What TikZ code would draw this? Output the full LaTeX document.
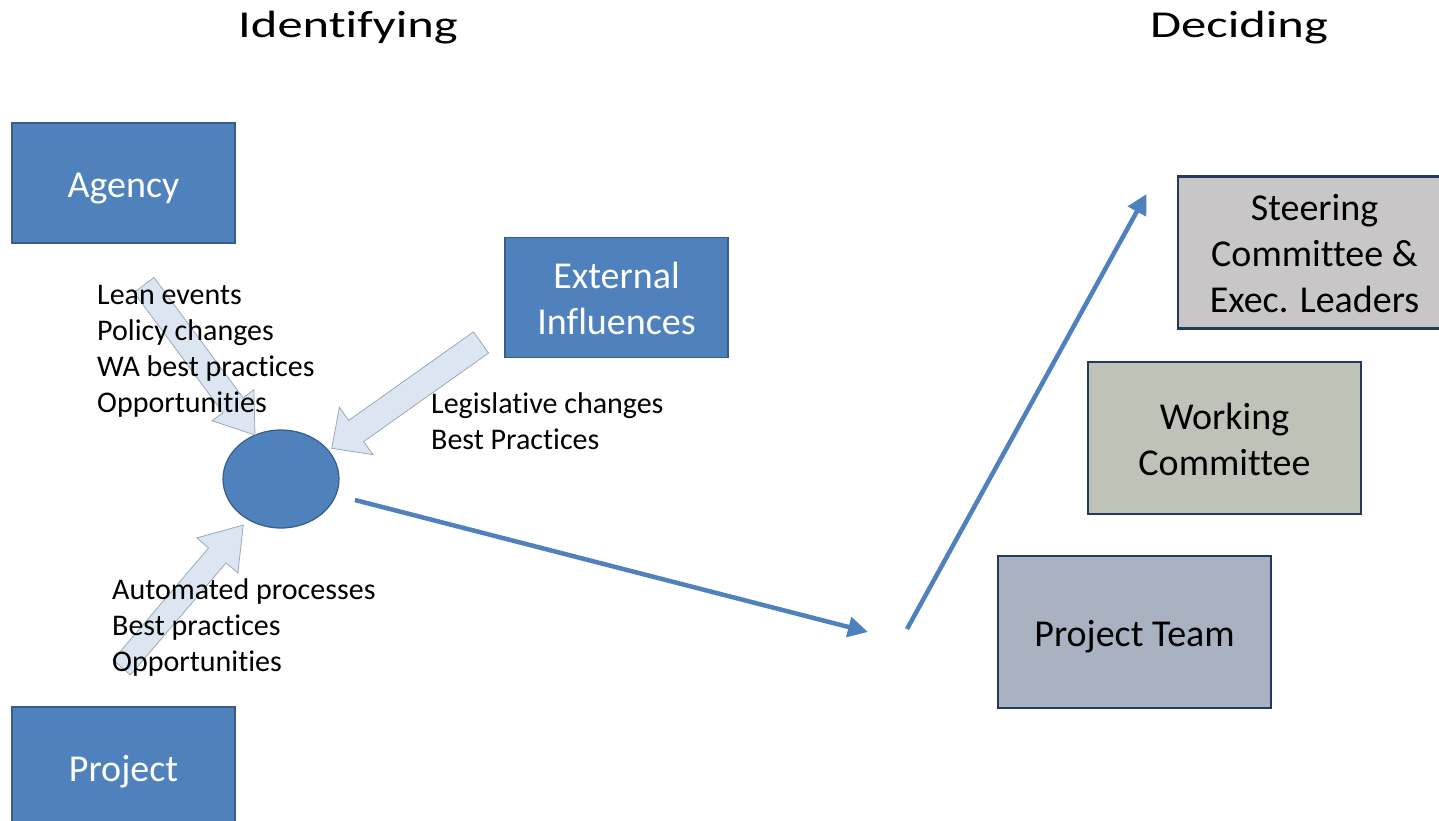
\documentclass[tikz,border=0pt]{standalone}
\usepackage{fontspec}
\setmainfont{Carlito}[RawFeature=-liga,RawFeature=-clig,RawFeature=-calt,RawFeature=-dlig]
\usepackage{graphicx}
\usetikzlibrary{shapes.geometric,arrows.meta,calc}
\definecolor{boxblue}{RGB}{79,129,189}
\definecolor{boxedge}{RGB}{56,93,138}
\definecolor{arrowfill}{RGB}{220,230,242}
\definecolor{arrowedge}{RGB}{158,168,182}
\definecolor{deepnavy}{RGB}{36,58,92}
\definecolor{steerfill}{RGB}{200,198,198}
\definecolor{workfill}{RGB}{191,195,183}
\definecolor{teamfill}{RGB}{168,178,193}
\definecolor{linkblue}{RGB}{79,129,189}
\newcommand\bxs{\rule[-9pt]{0pt}{46pt}}
\newcommand\myblockarrow[5]{%
  \coordinate (hb) at ($(#2)!#5!(#1)$);
  \draw[blockarrow] ($(#1)!#3!90:(#2)$) -- ($(hb)!#3!90:(#2)$) -- ($(hb)!#4!90:(#2)$)
    -- (#2) -- ($(hb)!#4!-90:(#2)$) -- ($(hb)!#3!-90:(#2)$) -- ($(#1)!#3!-90:(#2)$) -- cycle;}
\tikzset{
  bluebox/.style={draw=boxedge, fill=boxblue, line width=1.5pt, text=white,
    minimum width=223pt, minimum height=120pt, inner sep=0pt, align=center,
    font=\fontsize{38}{46}\selectfont},
  greybox/.style={draw=deepnavy, line width=2.5pt, text=black,
    minimum width=273pt, minimum height=152pt, inner sep=0pt, align=center,
    font=\fontsize{38}{46}\selectfont},
  blockarrow/.style={draw=arrowedge, fill=arrowfill, line width=0.8pt, line join=miter},
  linkarrow/.style={draw=linkblue, line width=4.5pt, -{Triangle[length=20pt,width=20pt]}},
  bodytext/.style={anchor=base west, inner sep=0pt, font=\fontsize{30}{36}\selectfont},
  titletext/.style={anchor=base, inner sep=0pt, font=\fontsize{38}{44}\selectfont}
}
\begin{document}
\begin{tikzpicture}[x=1pt,y=-1pt]
\useasboundingbox[fill=white] (0,0) rectangle (1439,820);

% titles
\node[titletext] (tident) at (348,37) {\scalebox{1.33}[1]{Identifying}};
\node[titletext] (tdec) at (1239,37) {\scalebox{1.33}[1]{Deciding}};

% blue boxes
\node[bluebox] (agency) at (123.5,183) {\bxs Agency};
\node[bluebox] (external) at (616.5,297.5) {\bxs External\\\bxs Influences};
\node[bluebox] (project) at (123.5,767) {\bxs Project};
\node[ellipse, draw=boxedge, fill=boxblue, line width=1.2pt, minimum width=116pt, minimum height=98pt, inner sep=0pt] (hub) at (281,479) {};

% block arrows
\coordinate (agtail) at (144,285);
\coordinate (agtip) at (255,435);
\myblockarrow{agtail}{agtip}{12.5pt}{26pt}{37pt}
\coordinate (extail) at (481,342.5);
\coordinate (extip) at (331.7,448.3);
\myblockarrow{extail}{extip}{13pt}{29pt}{30pt}
\coordinate (prtail) at (121.7,667.5);
\coordinate (prtip) at (243.3,525);
\myblockarrow{prtail}{prtip}{11.5pt}{27pt}{40pt}

% body texts
\node[bodytext] (agtext) at (97,304) {\begin{tabular}[t]{@{}l@{}}Lean events\\Policy changes\\WA best practices\\Opportunities\end{tabular}};
\node[bodytext] (extext) at (431,413) {\begin{tabular}[t]{@{}l@{}}Legislative changes\\Best Practices\end{tabular}};
\node[bodytext] (prtext) at (112,599) {\begin{tabular}[t]{@{}l@{}}Automated processes\\Best practices\\Opportunities\end{tabular}};

% grey boxes
\node[greybox, fill=steerfill] (steer) at (1314.5,252.5) {\bxs Steering\\\bxs Committee \&\\\bxs Exec. Leaders};
\node[greybox, fill=workfill] (working) at (1224.5,438) {\bxs Working\\\bxs Committee};
\node[greybox, fill=teamfill] (team) at (1134.5,632) {\bxs Project Team};

% thin arrows
\coordinate (l1s) at (355,500);
\coordinate (l1e) at (868,632);
\coordinate (l2s) at (907,629);
\coordinate (l2e) at (1146.5,194);
\draw[linkarrow] (l1s) -- (l1e);
\draw[linkarrow] (l2s) -- (l2e);
\end{tikzpicture}
\end{document}
